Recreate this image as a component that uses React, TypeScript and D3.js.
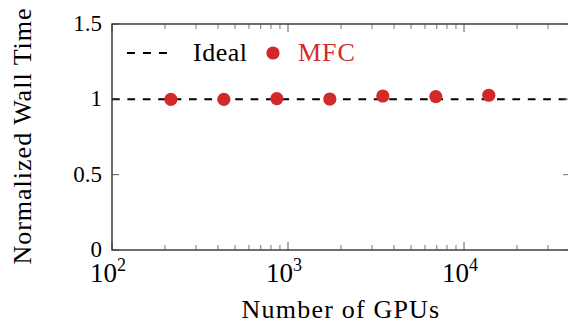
import * as d3 from 'd3';
import React from 'react';

// GPU counts and normalized wall time
const gpus = [216, 432, 864, 1728, 3456, 6912, 13824];
const wallTime = [1.0, 1.0, 1.005, 1.002, 1.022, 1.018, 1.027];
const idealValue = 1;
const yTicks = [0, 0.5, 1, 1.5];
const xDecades = [2, 3, 4];

const W = 568;
const H = 327;
const margin = { left: 112, top: 24, bottom: 250 };
const red = '#d22a2a';
const font = 'Liberation Serif';

export default function App() {
  const x = d3.scaleLog().domain([100, 40000]).range([margin.left, 570]);
  const y = d3.scaleLinear().domain([0, 1.5]).range([margin.bottom, margin.top]);
  const [x0, x1] = x.range();

  // minor ticks for the log axis: 2..9 in each decade
  const minor: number[] = [];
  for (let e = 2; e <= 4; e++) {
    for (let m = 2; m <= 9; m++) {
      const v = m * Math.pow(10, e);
      if (v <= 40000) minor.push(v);
    }
  }

  return (
    <svg width={W} height={H} style={{ position: 'absolute', left: 0, top: 0 }}>
      <rect width={W} height={H} fill="white" />

      {/* ideal line */}
      <line x1={x0} x2={x1} y1={y(idealValue)} y2={y(idealValue)}
        stroke="black" strokeWidth={2} strokeDasharray="7.7,7.7" />

      {/* frame */}
      <rect x={x0} y={margin.top} width={x1 - x0} height={margin.bottom - margin.top}
        fill="none" stroke="#222" strokeWidth={1.3} />

      {/* x ticks, bottom and top, pointing inward */}
      {xDecades.map((e) => {
        const px = x(Math.pow(10, e));
        return (
          <g key={'xt' + e}>
            <line x1={px} x2={px} y1={margin.bottom} y2={margin.bottom - 8} stroke="#333" strokeWidth={0.8} />
            <line x1={px} x2={px} y1={margin.top} y2={margin.top + 8} stroke="#333" strokeWidth={0.8} />
            <text x={px - 4} y={282} textAnchor="middle" fontFamily={font} fontSize={27} fill="black">
              10<tspan fontSize={18} dy={-11}>{e}</tspan>
            </text>
          </g>
        );
      })}
      {minor.map((v) => (
        <g key={'mn' + v}>
          <line x1={x(v)} x2={x(v)} y1={margin.bottom} y2={margin.bottom - 5} stroke="#555" strokeWidth={0.8} />
          <line x1={x(v)} x2={x(v)} y1={margin.top} y2={margin.top + 5} stroke="#555" strokeWidth={0.8} />
        </g>
      ))}

      {/* y ticks */}
      {yTicks.map((t) => (
        <g key={'yt' + t}>
          <line x1={x0} x2={x0 + 7} y1={y(t)} y2={y(t)} stroke="#333" strokeWidth={0.8} />
          <line x1={x1} x2={x1 - 7} y1={y(t)} y2={y(t)} stroke="#555" strokeWidth={0.8} />
          <text x={x0 - 10} y={y(t) + 7} textAnchor="end" fontFamily={font} fontSize={23} fill="black">{t}</text>
        </g>
      ))}

      {/* data */}
      {gpus.map((g, i) => (
        <circle key={'p' + g} cx={x(g)} cy={y(wallTime[i])} r={6.6} fill={red} />
      ))}

      {/* legend */}
      <line x1={127} x2={168} y1={53} y2={53} stroke="black" strokeWidth={2} strokeDasharray="8,8" />
      <text x={193} y={61} fontFamily={font} fontSize={26} letterSpacing={0.5} fill="black">Ideal</text>
      <circle cx={273} cy={53} r={6.6} fill={red} />
      <text x={298} y={61} fontFamily={font} fontSize={26} letterSpacing={1} fill={red}>MFC</text>

      {/* axis labels */}
      <text x={(x0 + x1) / 2} y={318} textAnchor="middle" fontFamily={font} fontSize={26}
        letterSpacing={1.2} fill="black">
        Number of GPUs
      </text>
      <text transform={`translate(31,136) rotate(-90)`} textAnchor="middle" fontFamily={font}
        fontSize={26} letterSpacing={1} fill="black">
        Normalized Wall Time
      </text>
    </svg>
  );
}
